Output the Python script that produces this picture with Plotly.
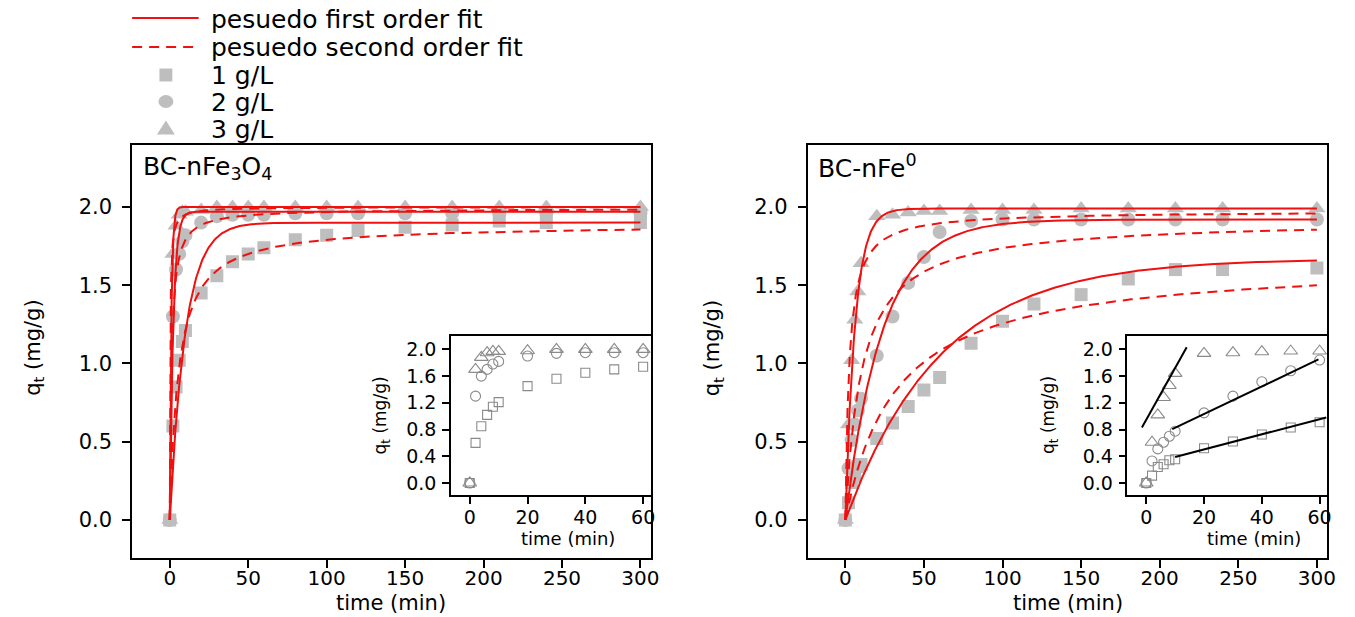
import numpy as np
import plotly.graph_objects as go

W, H = 1355, 617

# ---------------- data ----------------
time_min = [0, 2, 4, 6, 8, 10, 20, 30, 40, 50, 60, 80, 100, 120, 150, 180, 210, 240, 300]
dose_labels = ["1 g/L", "2 g/L", "3 g/L"]
fit_labels = ["pesuedo first order fit", "pesuedo second order fit"]

# BC-nFe3O4 adsorption (mg/g)
fe3o4_1gL = [0, 0.60, 0.85, 1.02, 1.14, 1.21, 1.45, 1.56, 1.65, 1.70, 1.74, 1.79, 1.82, 1.85, 1.87, 1.885, 1.91, 1.90, 1.90]
fe3o4_2gL = [0, 1.30, 1.60, 1.70, 1.78, 1.82, 1.90, 1.94, 1.95, 1.95, 1.95, 1.96, 1.96, 1.96, 1.96, 1.96, 1.96, 1.96, 1.96]
fe3o4_3gL = [0, 1.70, 1.88, 1.95, 1.97, 1.97, 1.98, 2.00, 2.00, 2.00, 2.00, 2.00, 2.00, 2.00, 2.00, 2.00, 2.00, 2.00, 2.00]

# BC-nFe0 adsorption (mg/g)
fe0_1gL = [0, 0.11, 0.24, 0.28, 0.34, 0.355, 0.52, 0.62, 0.725, 0.83, 0.91, 1.13, 1.27, 1.38, 1.44, 1.54, 1.60, 1.60, 1.61]
fe0_2gL = [0, 0.33, 0.51, 0.61, 0.70, 0.775, 1.05, 1.30, 1.515, 1.68, 1.84, 1.91, 1.92, 1.92, 1.92, 1.92, 1.92, 1.92, 1.92]
fe0_3gL = [0, 0.61, 1.02, 1.28, 1.46, 1.64, 1.94, 1.95, 1.965, 1.975, 1.975, 1.98, 1.98, 1.98, 1.99, 1.99, 1.99, 1.99, 1.99]

# fitted kinetic parameters (1, 2, 3 g/L)
fe3o4_pfo_qe = [1.90, 1.97, 2.00]
fe3o4_pfo_k1 = [0.10, 0.45, 1.00]
fe3o4_pso_qe = [1.89, 1.99, 2.00]
fe3o4_pso_k2 = [0.095, 0.45, 2.00]

fe0_pfo_qe = [1.67, 1.92, 1.99]
fe0_pfo_k1 = [0.0165, 0.042, 0.16]
fe0_pso_qe = [1.66, 1.92, 1.975]
fe0_pso_k2 = [0.0187, 0.0495, 0.2025]

# intraparticle-diffusion lines in BC-nFe0 inset (start/end)
diff_t = [[10, 62.3], [9, 59.6], [-1.5, 14]]
diff_q = [[0.39, 0.98], [0.805, 1.85], [0.83, 2.03]]

inset_n = 11  # points up to 60 min shown in insets

# ---------------- style ----------------
FONT = "DejaVu Sans"
GREY = "#bebebe"
OPEN_GREY = "#8a8a8a"
RED = "#f01010"
DASH = "10px,7px"
symbols = ["square", "circle", "triangle-up"]
sizes = [13, 14, 15]
open_symbols = ["square-open", "circle-open", "triangle-up-open"]
open_sizes = [9, 10, 12]


def px(x):
    return x / W


def py(y):
    return (H - y) / H


t_fit = np.concatenate([np.linspace(0, 10, 201), np.linspace(10.5, 300, 580)])


def pfo(qe, k, t):
    return qe * (1 - np.exp(-k * t))


def pso(qe, k, t):
    return qe * qe * k * t / (1 + qe * k * t)


fig = go.Figure()

panels = [
    dict(x="x", y="y", data=[fe3o4_1gL, fe3o4_2gL, fe3o4_3gL],
         pfo=(fe3o4_pfo_qe, fe3o4_pfo_k1), pso=(fe3o4_pso_qe, fe3o4_pso_k2)),
    dict(x="x2", y="y2", data=[fe0_1gL, fe0_2gL, fe0_3gL],
         pfo=(fe0_pfo_qe, fe0_pfo_k1), pso=(fe0_pso_qe, fe0_pso_k2)),
]

for pi, p in enumerate(panels):
    for i, q in enumerate(p["data"]):
        fig.add_trace(go.Scatter(
            x=time_min, y=q, mode="markers", xaxis=p["x"], yaxis=p["y"],
            marker=dict(symbol=symbols[i], size=sizes[i], color=GREY, line=dict(width=0)),
            name=dose_labels[i], showlegend=False))
    for i in range(3):
        fig.add_trace(go.Scatter(
            x=t_fit, y=pfo(p["pfo"][0][i], p["pfo"][1][i], t_fit), mode="lines",
            xaxis=p["x"], yaxis=p["y"], line=dict(color=RED, width=2),
            name=fit_labels[0], showlegend=False))
        fig.add_trace(go.Scatter(
            x=t_fit, y=pso(p["pso"][0][i], p["pso"][1][i], t_fit), mode="lines",
            xaxis=p["x"], yaxis=p["y"], line=dict(color=RED, width=2, dash=DASH),
            name=fit_labels[1], showlegend=False))

# insets
for ax, data in [(("x3", "y3"), [fe3o4_1gL, fe3o4_2gL, fe3o4_3gL]),
                 (("x4", "y4"), [fe0_1gL, fe0_2gL, fe0_3gL])]:
    for i, q in enumerate(data):
        fig.add_trace(go.Scatter(
            x=time_min[:inset_n], y=q[:inset_n], mode="markers", xaxis=ax[0], yaxis=ax[1],
            marker=dict(symbol=open_symbols[i], size=open_sizes[i], color=OPEN_GREY,
                        line=dict(width=1.1, color=OPEN_GREY)),
            showlegend=False))

for i in range(3):
    fig.add_trace(go.Scatter(x=diff_t[i], y=diff_q[i], mode="lines", xaxis="x4", yaxis="y4",
                             line=dict(color="black", width=2), showlegend=False))

# ---------------- axes ----------------
main_y = [py(558), py(145)]
common = dict(showline=True, mirror=True, linecolor="black", linewidth=1.5,
              ticks="outside", tickcolor="black", tickwidth=1.5, showgrid=False, zeroline=False,
              tickfont=dict(family=FONT, size=20, color="black"))
xrange_main = [-24, 306.5]
yrange_main = [-0.243, 2.396]

inset_common = dict(showline=True, mirror=True, linecolor="black", linewidth=1.5,
                    ticks="outside", tickcolor="black", tickwidth=1.5, ticklen=7,
                    showgrid=False, zeroline=False,
                    tickfont=dict(family=FONT, size=19, color="black"))
inset_y = [py(495), py(336)]
xrange_in = [-6.5, 62.6]
yrange_in = [-0.18, 2.2]

fig.update_layout(
    xaxis=dict(domain=[px(133), px(655)], range=xrange_main, anchor="y",
               tickvals=[0, 50, 100, 150, 200, 250, 300], ticklen=8, ticklabelstandoff=-7, **common),
    yaxis=dict(domain=main_y, range=yrange_main, anchor="x",
               tickvals=[0, 0.5, 1.0, 1.5, 2.0], tickformat=".1f", ticklen=8, ticklabelstandoff=6,
               **{**common, "tickfont": dict(family=FONT, size=21, color="black")}),
    xaxis2=dict(domain=[px(813), px(1336)], range=xrange_main, anchor="y2",
                tickvals=[0, 50, 100, 150, 200, 250, 300], ticklen=8, ticklabelstandoff=-7, **common),
    yaxis2=dict(domain=main_y, range=yrange_main, anchor="x2",
                tickvals=[0, 0.5, 1.0, 1.5, 2.0], tickformat=".1f", ticklen=8, ticklabelstandoff=6,
                **{**common, "tickfont": dict(family=FONT, size=21, color="black")}),
    xaxis3=dict(domain=[px(454), px(655)], range=xrange_in, anchor="y3",
                tickvals=[0, 20, 40, 60], ticklabelstandoff=-3, **inset_common),
    yaxis3=dict(domain=inset_y, range=yrange_in, anchor="x3",
                tickvals=[0, 0.4, 0.8, 1.2, 1.6, 2.0], tickformat=".1f", ticklabelstandoff=2, **inset_common),
    xaxis4=dict(domain=[px(1135), px(1336)], range=xrange_in, anchor="y4",
                tickvals=[0, 20, 40, 60], ticklabelstandoff=-3, **inset_common),
    yaxis4=dict(domain=inset_y, range=yrange_in, anchor="x4",
                tickvals=[0, 0.4, 0.8, 1.2, 1.6, 2.0], tickformat=".1f", ticklabelstandoff=2, **inset_common),
)

ann = []


def text(x, y, s, size, angle=0, xanchor="center", yanchor="middle"):
    ann.append(dict(x=px(x), y=py(y), xref="paper", yref="paper", text=s, showarrow=False,
                    textangle=angle, xanchor=xanchor, yanchor=yanchor,
                    font=dict(family=FONT, size=size, color="black")))


text(142, 168, "BC-nFe<sub>3</sub>O<sub>4</sub>", 25, xanchor="left")
text(821, 166, "BC-nFe<sup>0</sup>", 25, xanchor="left")
text(394, 617, "time (min)", 21, yanchor="bottom")
text(1075, 617, "time (min)", 21, yanchor="bottom")
text(34, 348, "q<sub>t</sub> (mg/g)", 21, angle=-90)
text(718, 348, "q<sub>t</sub> (mg/g)", 21, angle=-90)
text(572, 538, "time (min)", 18)
text(1262, 538, "time (min)", 18)
text(384, 415, "q<sub>t</sub> (mg/g)", 17, angle=-90)
text(1056, 415, "q<sub>t</sub> (mg/g)", 17, angle=-90)

# ---------------- legend (drawn as keys + text) ----------------
shapes = []
row_y = [18, 47, 75, 101.5, 128]
key_x0, key_x1, key_c = 133, 200, 167
shapes.append(dict(type="line", xref="paper", yref="paper", x0=px(key_x0), x1=px(key_x1),
                   y0=py(row_y[0]), y1=py(row_y[0]), line=dict(color=RED, width=2)))
shapes.append(dict(type="line", xref="paper", yref="paper", x0=px(key_x0), x1=px(key_x1),
                   y0=py(row_y[1]), y1=py(row_y[1]), line=dict(color=RED, width=2, dash=DASH)))
s = 6.5
shapes.append(dict(type="rect", xref="paper", yref="paper", x0=px(key_c - s), x1=px(key_c + s),
                   y0=py(row_y[2] + s), y1=py(row_y[2] - s), fillcolor=GREY, line=dict(width=0)))
shapes.append(dict(type="circle", xref="paper", yref="paper", x0=px(key_c - 7.5), x1=px(key_c + 7.5),
                   y0=py(row_y[3] + 6.5), y1=py(row_y[3] - 6.5), fillcolor=GREY, line=dict(width=0)))
tri = "M {:.5f} {:.5f} L {:.5f} {:.5f} L {:.5f} {:.5f} Z".format(
    px(key_c - 9), py(row_y[4] + 6.5), px(key_c + 9), py(row_y[4] + 6.5), px(key_c), py(row_y[4] - 7.5))
shapes.append(dict(type="path", xref="paper", yref="paper", path=tri, fillcolor=GREY, line=dict(width=0)))

legend_texts = fit_labels + dose_labels
for ry, lab in zip(row_y, legend_texts):
    text(210, ry + 1, lab, 25, xanchor="left")

fig.update_layout(
    width=W, height=H, autosize=False,
    margin=dict(l=0, r=0, t=0, b=0),
    paper_bgcolor="white", plot_bgcolor="rgba(0,0,0,0)",
    annotations=ann, shapes=shapes,
    showlegend=False,
)

fig.write_html("out.html")
